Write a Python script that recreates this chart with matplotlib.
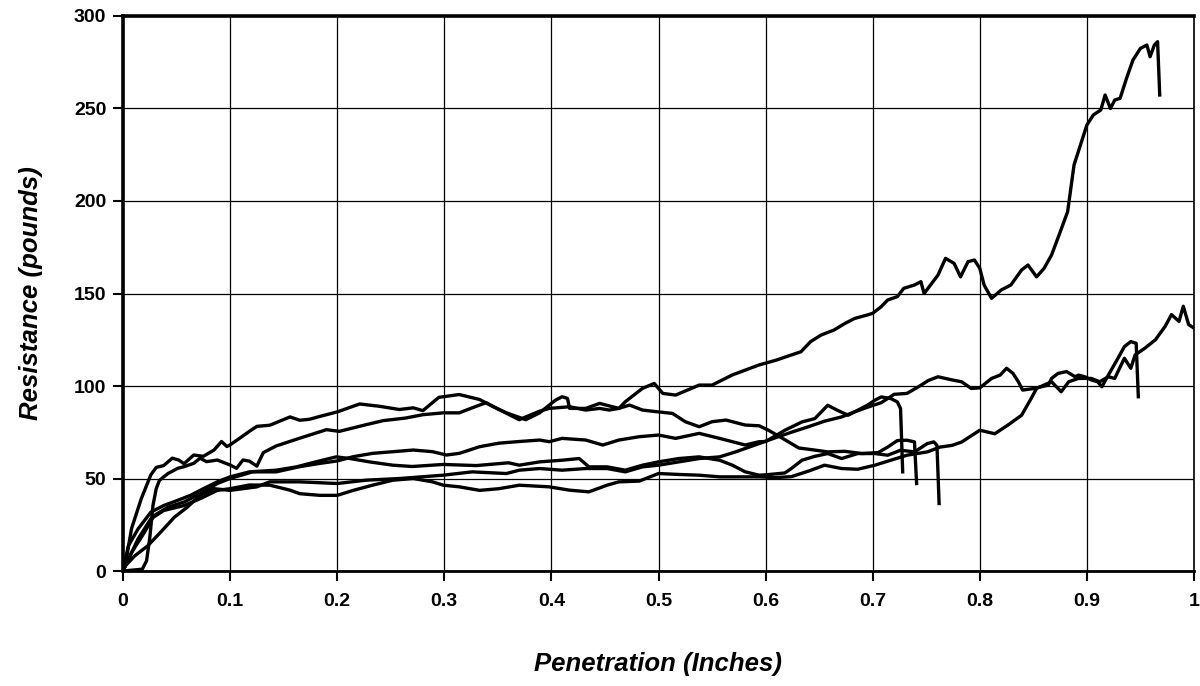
import matplotlib
matplotlib.use("Agg")
import matplotlib.pyplot as plt

# penetration (in) / resistance (lb) readings, one pair of lists per test
a_x = [0, 0.002, 0.008, 0.017, 0.026, 0.031, 0.038, 0.046, 0.052, 0.057, 0.066, 0.075, 0.085, 0.092, 0.097,
       0.1, 0.109, 0.118, 0.125, 0.137, 0.156, 0.165, 0.174, 0.184, 0.2, 0.221, 0.24, 0.258, 0.271, 0.28,
       0.295, 0.314, 0.333, 0.345, 0.358, 0.376, 0.389, 0.398, 0.404, 0.41, 0.415, 0.417, 0.432, 0.445, 0.457,
       0.463, 0.469, 0.485, 0.496, 0.504, 0.516, 0.538, 0.55, 0.569, 0.594, 0.61, 0.62, 0.633, 0.642, 0.652,
       0.664, 0.674, 0.683, 0.695, 0.7, 0.708, 0.714, 0.723, 0.729, 0.739, 0.745, 0.748, 0.754, 0.761, 0.768,
       0.776, 0.782, 0.789, 0.795, 0.8, 0.804, 0.811, 0.82, 0.829, 0.839, 0.845, 0.853, 0.86, 0.867, 0.874,
       0.882, 0.888, 0.894, 0.9, 0.906, 0.913, 0.917, 0.922, 0.926, 0.931, 0.937, 0.943, 0.95, 0.956, 0.959,
       0.963, 0.966, 0.968]
a_y = [0, 3, 23, 39, 52, 56, 57, 61, 60, 58, 62.7, 62, 65.4, 70, 67.3,
       68.2, 71.8, 75.5, 78.2, 78.8, 83.3, 81.5, 82, 83.6, 86, 90.3, 89, 87.3, 88.2, 86.7,
       93.9, 95.4, 92.7, 89, 85.5, 81.8, 85.5, 89.7, 92.4, 94.2, 93.3, 87.9, 87.9, 90.6, 88.8,
       87.9, 91.5, 98.7, 101.4, 96, 95.1, 100.5, 100.5, 106, 111.4, 114, 116, 118.5, 124, 127.6,
       130.3, 133.8, 136.5, 138.4, 139.3, 142.9, 146.5, 148.3, 152.8, 154.6, 156.4, 150, 154.6, 160, 169,
       166.3, 159, 167.2, 168.1, 163.6, 154.6, 147.4, 151.9, 154.6, 162.7, 165.4, 159, 163.6, 170.8, 181.6,
       194.2, 219.5, 230.3, 241.1, 246.5, 249.2, 257.3, 250, 254.6, 255.5, 266.3, 276.2, 282.5, 284.3, 278,
       284.3, 286.1, 257.3]

b_x = [0, 0.014, 0.026, 0.038, 0.057, 0.072, 0.088, 0.1, 0.118, 0.137, 0.156, 0.165, 0.184, 0.2, 0.215,
       0.233, 0.252, 0.271, 0.289, 0.299, 0.314, 0.333, 0.351, 0.37, 0.398, 0.417, 0.435, 0.452, 0.463, 0.482,
       0.5, 0.519, 0.538, 0.557, 0.575, 0.594, 0.609, 0.624, 0.64, 0.655, 0.671, 0.686, 0.702, 0.717, 0.732,
       0.751, 0.763, 0.774, 0.783, 0.8, 0.814, 0.826, 0.839, 0.848, 0.853, 0.867, 0.876, 0.883, 0.892, 0.904,
       0.912, 0.92, 0.926, 0.929, 0.935, 0.941, 0.945, 0.954, 0.964, 0.973, 0.979, 0.986, 0.99, 0.995, 1.0]
b_y = [0, 17.3, 28.2, 32.7, 35.4, 39.1, 43.6, 44.5, 46.5, 46.4, 43.7, 41.8, 40.9, 40.9, 43.6,
       46.4, 49.1, 50, 48.2, 46.4, 45.5, 43.6, 44.5, 46.4, 45.5, 43.7, 42.8, 46.4, 48.2, 48.6,
       52.7, 52.2, 51.8, 50.9, 50.9, 50.9, 50.5, 51, 54, 57.2, 55.4, 55, 57.2, 59.9, 62.6,
       64.4, 67, 67.9, 69.7, 76.1, 74.2, 78.8, 84.2, 93.3, 98.7, 102.3, 96.9, 102.3, 104.1, 104.1,
       102.3, 105, 104.1, 107.8, 115, 109.6, 116.8, 120.4, 125, 132.2, 138.6, 134.9, 143.1, 133.2, 131.3]

c_x = [0, 0.002, 0.011, 0.023, 0.035, 0.048, 0.06, 0.072, 0.085, 0.1, 0.112, 0.125, 0.137, 0.165, 0.2,
       0.227, 0.258, 0.299, 0.326, 0.358, 0.37, 0.389, 0.41, 0.432, 0.452, 0.469, 0.485, 0.5, 0.519, 0.538,
       0.557, 0.572, 0.594, 0.609, 0.624, 0.64, 0.655, 0.671, 0.683, 0.695, 0.708, 0.72, 0.732, 0.745, 0.752,
       0.761, 0.774, 0.783, 0.792, 0.8, 0.811, 0.819, 0.825, 0.831, 0.836, 0.84, 0.851, 0.864, 0.867, 0.873,
       0.881, 0.889, 0.892, 0.898, 0.904, 0.91, 0.914, 0.92, 0.929, 0.935, 0.941, 0.946, 0.948]
c_y = [0, 2.7, 8.2, 13.6, 20.9, 29.1, 34.5, 40.9, 44.5, 43.6, 44.5, 45.5, 48.2, 48.2, 47.3,
       49.1, 50, 51.8, 53.6, 52.7, 54.5, 55.4, 54.5, 55.4, 55.4, 53.6, 56.3, 57.2, 59, 60.8,
       61.7, 64.4, 68.9, 72, 75, 78, 81, 83.3, 86, 88.5, 91, 95.5, 96, 100.4, 103,
       105, 103.3, 102.3, 98.7, 99, 104.1, 105.9, 109.6, 106.8, 102.3, 97.8, 98.7, 100.5, 104.1, 106.8,
       107.8, 105, 105.9, 105, 103.3, 102.3, 99.6, 105.9, 115, 121.3, 124, 123.1, 94.2]

d_x = [0, 0.008, 0.02, 0.029, 0.042, 0.057, 0.072, 0.088, 0.1, 0.121, 0.143, 0.165, 0.184, 0.2, 0.215,
       0.233, 0.252, 0.271, 0.289, 0.302, 0.314, 0.333, 0.351, 0.37, 0.389, 0.398, 0.41, 0.432, 0.448, 0.463,
       0.482, 0.5, 0.516, 0.538, 0.557, 0.581, 0.594, 0.6, 0.609, 0.618, 0.634, 0.646, 0.658, 0.667, 0.677,
       0.686, 0.695, 0.702, 0.708, 0.717, 0.723, 0.726, 0.728]
d_y = [0, 10, 20.9, 30, 34.5, 37.3, 41.8, 47.3, 50, 53.6, 53.6, 56.4, 58.2, 59.5, 61.8,
       63.6, 64.5, 65.4, 64.5, 62.7, 63.6, 67.2, 69.1, 70, 70.8, 69.9, 71.7, 70.8, 68.1, 70.8,
       72.6, 73.5, 71.7, 74.4, 71.7, 68.1, 69.9, 70, 73, 76.1, 80.6, 82.4, 89.6, 86.9, 84.2,
       86.9, 89.6, 92.3, 94.1, 93.2, 91.4, 87.8, 53.6]

e_x = [0, 0.018, 0.022, 0.025, 0.028, 0.031, 0.034, 0.042, 0.051, 0.057, 0.066, 0.072, 0.078, 0.088, 0.1,
       0.106, 0.112, 0.118, 0.125, 0.131, 0.143, 0.165, 0.19, 0.202, 0.227, 0.243, 0.264, 0.28, 0.299, 0.314,
       0.326, 0.339, 0.351, 0.37, 0.389, 0.398, 0.417, 0.432, 0.445, 0.454, 0.463, 0.473, 0.485, 0.5, 0.513,
       0.525, 0.538, 0.55, 0.563, 0.581, 0.594, 0.603, 0.615, 0.631, 0.643, 0.658, 0.674, 0.69, 0.705, 0.714,
       0.723, 0.732, 0.739, 0.741]
e_y = [0, 1, 5.5, 18, 35.5, 44.5, 49, 52.7, 55.5, 56.4, 58.2, 61, 59.1, 60, 57.3,
       55.5, 60, 59.4, 56.7, 64, 67.6, 71.8, 76.4, 75.5, 79.1, 81.3, 82.7, 84.5, 85.5, 85.5,
       88.2, 91, 87.3, 81.8, 86.4, 87.9, 88.8, 87, 87.9, 87, 87.9, 89.7, 87, 86, 85.2,
       80.7, 78, 80.7, 81.6, 78.9, 78.5, 76, 72, 66.5, 65.6, 64.4, 64.7, 63.5, 64, 67,
       70.5, 70.7, 69.8, 47.3]

f_x = [0, 0.005, 0.014, 0.026, 0.038, 0.051, 0.063, 0.075, 0.088, 0.1, 0.118, 0.143, 0.162, 0.18, 0.199,
       0.212, 0.23, 0.252, 0.27, 0.299, 0.33, 0.36, 0.37, 0.389, 0.41, 0.426, 0.435, 0.452, 0.469, 0.485,
       0.5, 0.519, 0.538, 0.557, 0.569, 0.581, 0.594, 0.6, 0.618, 0.624, 0.634, 0.646, 0.658, 0.671, 0.686,
       0.702, 0.714, 0.726, 0.739, 0.751, 0.757, 0.76, 0.762]
f_y = [0, 13.6, 22.7, 31.8, 35.4, 38.2, 40.9, 44.5, 48.2, 50.9, 53.6, 54.5, 56.3, 59, 61.7,
       60.8, 59, 57.2, 56.5, 57.6, 57, 58.5, 57.2, 59, 59.9, 60.8, 56.3, 56.3, 54.5, 57.2,
       59, 60.8, 61.7, 59.9, 57.2, 53.6, 51.8, 52, 53, 55.4, 59.9, 62, 63.5, 60.8, 63.5,
       63.5, 62.6, 65.3, 64.4, 68.9, 69.8, 68, 36.5]

runs = [(a_x, a_y), (b_x, b_y), (c_x, c_y), (d_x, d_y), (e_x, e_y), (f_x, f_y)]

x_ticks = [0, 0.1, 0.2, 0.3, 0.4, 0.5, 0.6, 0.7, 0.8, 0.9, 1]
x_labels = ["0", "0.1", "0.2", "0.3", "0.4", "0.5", "0.6", "0.7", "0.8", "0.9", "1"]
y_ticks = [0, 50, 100, 150, 200, 250, 300]

plt.rcParams['font.family'] = ['Liberation Sans', 'DejaVu Sans']

fig = plt.figure(figsize=(12, 6.86), dpi=100)
ax = fig.add_axes([0.1025, 0.1676, 0.8925, 0.8091])

for xs, ys in runs:
    ax.plot(xs, ys, color='black', linewidth=2.4, solid_joinstyle='round')

ax.set_xlim(0, 1)
ax.set_ylim(0, 300)
ax.set_xticks(x_ticks)
ax.set_xticklabels(x_labels)
ax.set_yticks(y_ticks)
ax.grid(True, color='black', linewidth=0.9)
ax.set_axisbelow(True)

ax.spines['left'].set_linewidth(2.6)
ax.spines['top'].set_linewidth(2.6)
ax.spines['bottom'].set_linewidth(2.0)
ax.spines['right'].set_linewidth(1.2)
ax.tick_params(axis='both', direction='out', length=7, width=1.5, labelsize=14, colors='black')
ax.tick_params(axis='x', pad=9)
ax.tick_params(axis='y', pad=5)
for lab in ax.get_xticklabels() + ax.get_yticklabels():
    lab.set_fontweight('bold')

ax.set_xlabel('Penetration (Inches)', fontsize=18.5, fontweight='bold', style='italic', labelpad=30)
ax.set_ylabel('Resistance (pounds)', fontsize=18.5, fontweight='bold', style='italic', labelpad=22)

fig.savefig('out.png', dpi=100, facecolor='white')
